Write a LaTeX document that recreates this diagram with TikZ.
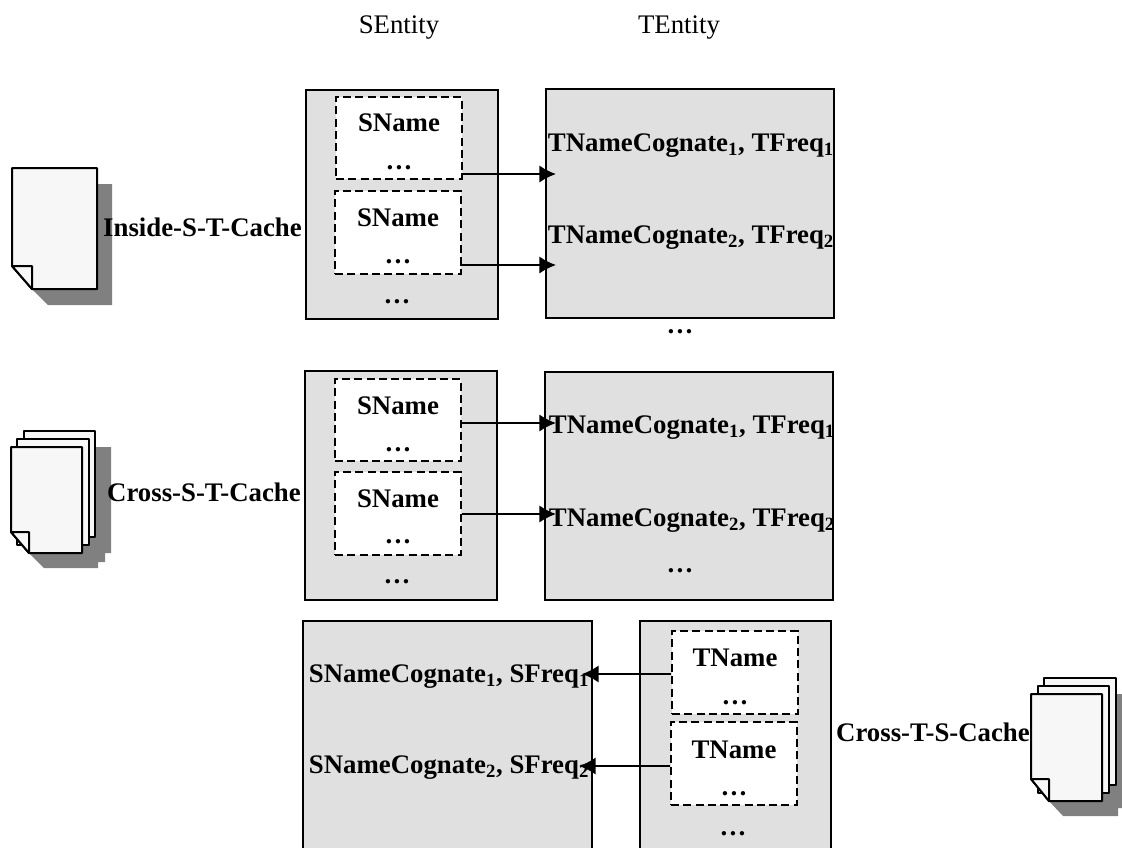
\documentclass[tikz,border=0pt]{standalone}
\usepackage{fontspec}
\setmainfont{Liberation Serif}
\usetikzlibrary{arrows.meta}
\definecolor{boxgray}{HTML}{E0E0E0}
\definecolor{shadowgray}{HTML}{808080}
\definecolor{pagewhite}{HTML}{F7F7F7}
\newcommand{\pxbox}[6]{\node[#1,minimum width={(#5-#3)*0.75pt},minimum height={(#6-#4)*0.75pt}] (#2) at ({(#3+#5)/2},{(#4+#6)/2}) {};}
\newcommand{\pageicon}[6]{%
 \draw[page] (#1,#2) -- (#3,#2) -- (#3,#4) -- (#5,#4) -- (#1,#6) -- cycle;
 \draw[fold] (#1,#6) -- (#5,#6) -- (#5,#4) -- cycle;}
\tikzset{
 gbox/.style={draw=black,fill=boxgray,line width=1.5pt,inner sep=0pt},
 dbox/.style={draw=black,fill=white,line width=1.35pt,dash pattern=on 6pt off 3.2pt,inner sep=0pt},
 lbl/.style={font=\fontsize{20.1}{22}\selectfont\bfseries,anchor=base,inner sep=0pt},
 hdr/.style={font=\fontsize{20.1}{22}\selectfont,anchor=base,inner sep=0pt},
 arr/.style={draw=black,line width=1.5pt,-{Latex[length=12.5pt,width=13pt]}},
 page/.style={draw=black,fill=pagewhite,line width=1.5pt,line join=round},
 fold/.style={draw=black,fill=pagewhite,line width=1.5pt,line join=round},
 shad/.style={fill=shadowgray,draw=none},
}
\newcommand{\subs}[1]{\textsubscript{#1}}
\begin{document}
\begin{tikzpicture}[x=0.75pt,y=-0.75pt]
\useasboundingbox (0,0) rectangle (1122,847);
% headers
\node[hdr] (h1) at (399,33) {SEntity};
\node[hdr] (h2) at (679,33) {TEntity};
% row 1
\pxbox{gbox}{s1}{306}{90}{498}{319}
\pxbox{gbox}{t1}{546}{89}{834}{318}
\pxbox{dbox}{d11}{336}{97}{462}{179}
\pxbox{dbox}{d12}{335}{191}{461}{274}
\node[lbl] (n11) at (399,131) {SName};
\node[lbl] (e11) at (399,169) {…};
\node[lbl] (n12) at (398,226) {SName};
\node[lbl] (e12) at (398,263) {…};
\node[lbl] (e13) at (397,303) {…};
\node[lbl] (c11) at (691,151) {TNameCognate\subs{1}, TFreq\subs{1}};
\node[lbl] (c12) at (691,243) {TNameCognate\subs{2}, TFreq\subs{2}};
\node[lbl] (e14) at (680,333) {…};
\coordinate (a11) at (556,174);
\coordinate (a12) at (556,265);
\draw[arr] (a11 -| d11.east) ++(-2,0) -- (a11);
\draw[arr] (a12 -| d12.east) ++(-2,0) -- (a12);
% row 2
\pxbox{gbox}{s2}{305}{371}{497}{600}
\pxbox{gbox}{t2}{545}{372}{833}{600}
\pxbox{dbox}{d21}{335}{379}{461}{461}
\pxbox{dbox}{d22}{335}{472}{461}{555}
\node[lbl] (n21) at (398,414) {SName};
\node[lbl] (e21) at (398,451) {…};
\node[lbl] (n22) at (398,507) {SName};
\node[lbl] (e22) at (398,543) {…};
\node[lbl] (e23) at (397,583) {…};
\node[lbl] (c21) at (692,433) {TNameCognate\subs{1}, TFreq\subs{1}};
\node[lbl] (c22) at (692,526) {TNameCognate\subs{2}, TFreq\subs{2}};
\node[lbl] (e24) at (680,572) {…};
\coordinate (a21) at (556,423);
\coordinate (a22) at (556,514);
\draw[arr] (a21 -| d21.east) -- (a21);
\draw[arr] (a22 -| d22.east) -- (a22);
% row 3
\pxbox{gbox}{s3}{303}{621}{592}{860}
\pxbox{gbox}{t3}{640}{621}{831}{860}
\pxbox{dbox}{d31}{672}{631}{798}{714}
\pxbox{dbox}{d32}{671}{722}{797}{805}
\node[lbl] (n31) at (735,666) {TName};
\node[lbl] (e31) at (735,704) {…};
\node[lbl] (n32) at (734,758) {TName};
\node[lbl] (e32) at (734,795) {…};
\node[lbl] (e33) at (733,835) {…};
\node[lbl] (c31) at (449,682) {SNameCognate\subs{1}, SFreq\subs{1}};
\node[lbl] (c32) at (449,773) {SNameCognate\subs{2}, SFreq\subs{2}};
\coordinate (a31) at (582,674);
\coordinate (a32) at (579,766);
\draw[arr] (a31 -| d31.west) -- (a31);
\draw[arr] (a32 -| d32.west) -- (a32);
% icon 1
\fill[shad] (32,289) -- (97,289) -- (97,184) -- (112,184) -- (112,305) -- (48,305) -- cycle;
\pageicon{12}{168}{97}{289}{32}{266}
% icon 2
\fill[shad] (29,553) -- (82,553) -- (82,447) -- (111,447) -- (111,553) -- (105,553) -- (105,562) -- (98,562) -- (98,568) -- (44,568) -- cycle;
\draw[page] (24,431) rectangle (95,537);
\draw[page] (17,439) rectangle (89,545);
\pageicon{11}{447}{82}{553}{29}{532}
% icon 3
\fill[shad] (1049,801) -- (1102,801) -- (1102,694) -- (1122,694) -- (1122,808) -- (1118,808) -- (1118,816) -- (1063,816) -- cycle;
\draw[page] (1044,678) rectangle (1116,785);
\draw[page] (1038,686) rectangle (1109,793);
\pageicon{1031}{694}{1102}{801}{1049}{779}
% cache labels
\node[lbl] (l1) at (202.5,236) {Inside-S-T-Cache};
\node[lbl] (l2) at (204,501) {Cross-S-T-Cache};
\node[lbl] (l3) at (933,741) {Cross-T-S-Cache};
\end{tikzpicture}
\end{document}
